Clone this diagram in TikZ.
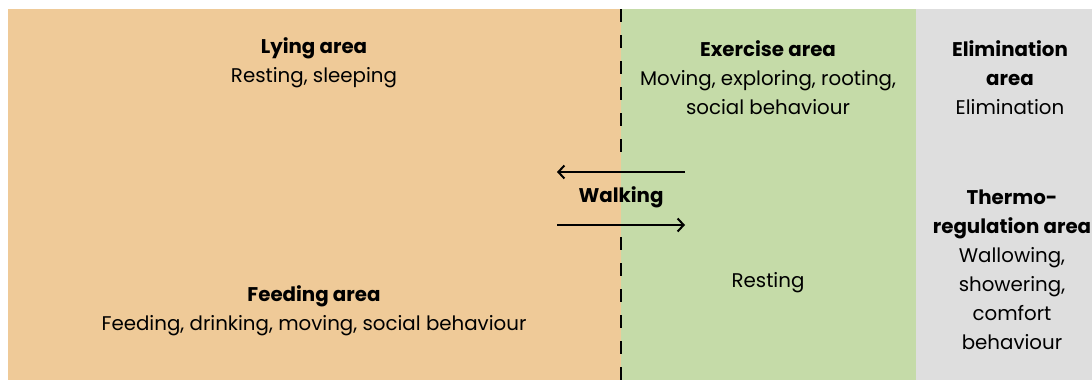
\documentclass[tikz,border=0pt]{standalone}
\usepackage{fontspec}
\setmainfont{Poppins}
\usetikzlibrary{positioning,arrows.meta}

\definecolor{lyingorange}{RGB}{239,202,152}
\definecolor{exercisegreen}{RGB}{197,219,168}
\definecolor{elimgray}{RGB}{222,222,222}

\begin{document}
\begin{tikzpicture}[%
    x=1pt, y=1pt,
    >={Straight Barb[length=6pt,width=13pt]},
    area/.style={align=center, font=\fontsize{19.8}{29}\selectfont, inner sep=0pt},
    boundary/.style={line width=2.4pt, dash pattern=on 13pt off 13pt},
    walk/.style={->, line width=2pt}
    ]
    \useasboundingbox (0,0) rectangle (1092,-380);

    % zones
    \fill[lyingorange] (8,-9) rectangle (621,-380);
    \fill[exercisegreen] (621,-9) rectangle (916,-380);
    \fill[elimgray] (916,-9) rectangle (1092,-380);

    \node[area] (lying) at (314,-63) {\textbf{Lying area}\\Resting, sleeping};
    \node[area] (feeding) at (314,-311) {\textbf{Feeding area}\\Feeding, drinking, moving, social behaviour};
    \node[area] (exercise) at (768,-78) {\textbf{Exercise area}\\Moving, exploring, rooting,\\social behaviour};
    \node[area] (resting) at (768,-283) {Resting};
    \node[area] (elim) at (1010,-78) {\textbf{Elimination}\\\textbf{area}\\Elimination};
    \node[area] (thermo) at (1012,-269.5) {\textbf{Thermo-}\\\textbf{regulation area}\\Wallowing,\\showering,\\comfort\\behaviour};
    \node[area] (walking) at (621,-197) {\textbf{Walking}};

    % fence
    \coordinate (fencetop) at (621,-9);
    \coordinate (fencebot) at (621,-380);
    \draw[boundary] (fencetop) -- ([yshift=40pt]walking.center);
    \draw[boundary] ([yshift=-40pt]walking.center) -- (fencebot);

    % walking arrows
    \coordinate (backstart) at (685,-172);
    \coordinate (backend) at (557,-172);
    \coordinate (outstart) at (557,-225);
    \coordinate (outend) at (685,-225);
    \draw[walk] (backstart) -- (backend);
    \draw[walk] (outstart) -- (outend);

\end{tikzpicture}
\end{document}
